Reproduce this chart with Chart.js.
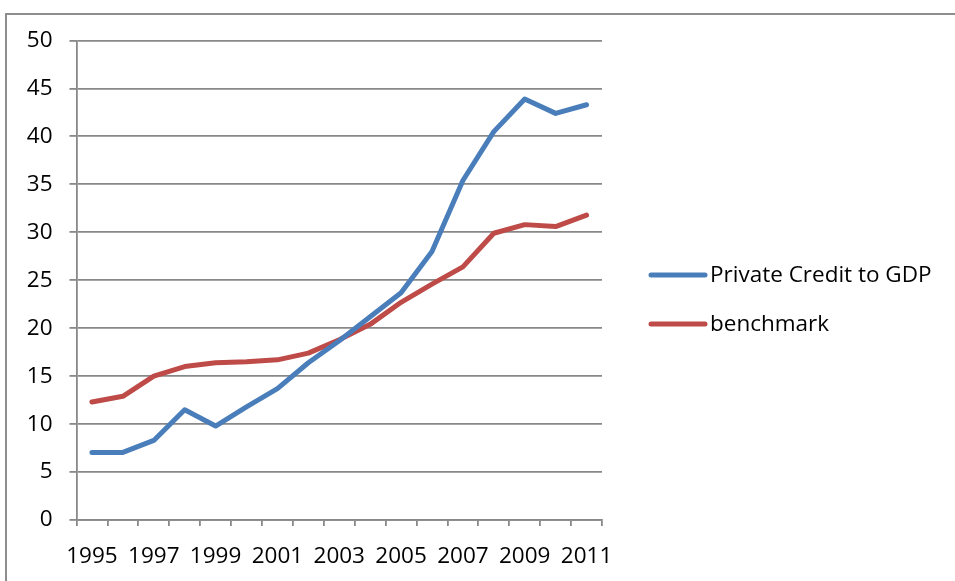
<!DOCTYPE html>
<html>
<head>
<meta charset="utf-8">
<script src="https://cdn.jsdelivr.net/npm/chart.js@4"></script>
<style>
  html, body { margin: 0; padding: 0; background: #fff; overflow: hidden; }
  #frame {
    position: absolute; left: 5px; top: 13px; width: 1000px; height: 700px;
    border-left: 2px solid #8e8e8e; border-top: 2px solid #8e8e8e;
  }
  #wrap { position: absolute; left: 0; top: 0; width: 955px; height: 581px; }
</style>
</head>
<body>
<div id="frame"></div>
<div id="wrap"><canvas id="myChart" width="955" height="581"></canvas></div>
<script>
  // series
  const years = ['1995', '1996', '1997', '1998', '1999', '2000', '2001', '2002', '2003',
                 '2004', '2005', '2006', '2007', '2008', '2009', '2010', '2011'];
  const privateCredit = [7.05, 7.05, 8.3, 11.5, 9.8, 11.8, 13.7, 16.4, 18.7, 21.2, 23.7,
                         28.0, 35.4, 40.5, 43.9, 42.4, 43.3];
  const benchmark = [12.3, 12.9, 15.0, 16.0, 16.4, 16.5, 16.7, 17.4, 18.8, 20.4, 22.7,
                     24.6, 26.4, 29.9, 30.8, 30.6, 31.8];
  const seriesNames = ['Private Credit to GDP', 'benchmark'];
  const seriesColors = ['#4a7ebb', '#be4b48'];

  const font = { family: "'Open Sans', sans-serif", size: 22.5 };
  const gridColor = '#888888';

  // legend drawn by hand on the right side
  const sideLegend = {
    id: 'sideLegend',
    afterDraw(chart) {
      const c = chart.ctx;
      const x0 = 651, x1 = 705, y0 = 275, gap = 49;
      c.save();
      c.font = font.size + 'px ' + font.family;
      c.textBaseline = 'middle';
      chart.data.datasets.forEach((ds, i) => {
        const y = y0 + i * gap;
        c.strokeStyle = ds.borderColor;
        c.lineWidth = 5;
        c.lineCap = 'round';
        c.beginPath();
        c.moveTo(x0, y);
        c.lineTo(x1, y);
        c.stroke();
        c.fillStyle = '#000';
        c.fillText(ds.label, x1 + 5, y + 1);
      });
      c.restore();
    }
  };

  const ctx = document.getElementById('myChart');

  new Chart(ctx, {
    type: 'line',
    data: {
      labels: years,
      datasets: seriesNames.map((name, i) => ({
        label: name,
        data: i === 0 ? privateCredit : benchmark,
        borderColor: seriesColors[i],
        backgroundColor: seriesColors[i],
        borderWidth: 5,
        borderCapStyle: 'round',
        borderJoinStyle: 'round',
        pointRadius: 0,
        tension: 0
      }))
    },
    options: {
      responsive: false,
      animation: false,
      layout: { padding: { left: 6.5, right: 353, top: 40.5, bottom: 0 } },
      plugins: {
        legend: { display: false },
        tooltip: { enabled: false }
      },
      scales: {
        x: {
          offset: true,
          grid: {
            offset: true,
            drawOnChartArea: false,
            tickLength: 6,
            color: gridColor,
            lineWidth: 1.8
          },
          border: { color: gridColor, width: 1.8 },
          ticks: {
            autoSkip: false,
            maxRotation: 0,
            padding: 17,
            color: '#000',
            font: font,
            callback: (v, i) => (i % 2 === 0 ? years[i] : '')
          },
          afterFit: (s) => { s.height = 61; }
        },
        y: {
          min: 0,
          max: 50,
          ticks: { stepSize: 5, padding: 17, color: '#000', font: font },
          grid: { tickLength: 7, color: gridColor, lineWidth: 1.8 },
          border: { color: gridColor, width: 1.8 },
          afterFit: (s) => { s.width = 70; }
        }
      }
    },
    plugins: [sideLegend]
  });
</script>
</body>
</html>
